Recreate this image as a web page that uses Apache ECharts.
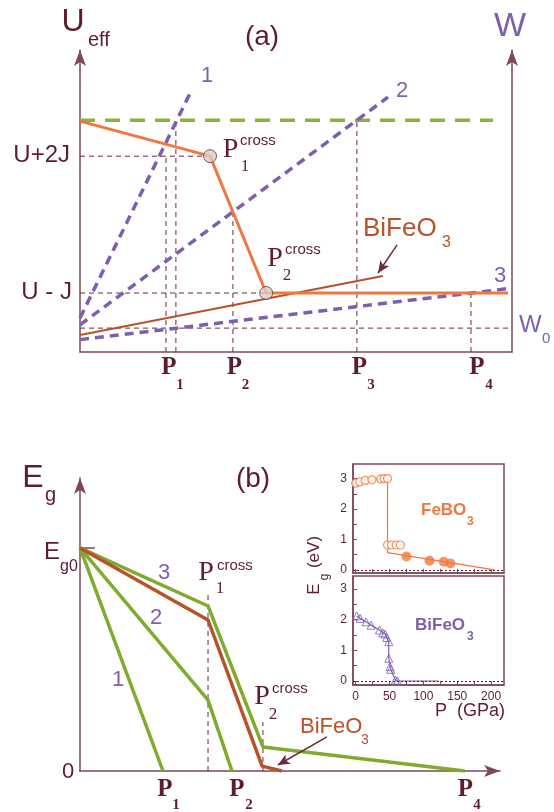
<!DOCTYPE html>
<html>
<head>
<meta charset="utf-8">
<script src="https://cdn.jsdelivr.net/npm/echarts@6/dist/echarts.min.js"></script>
<style>
  html, body { margin: 0; padding: 0; background: #fff; }
  #chart { width: 554px; height: 812px; }
</style>
</head>
<body>
<div id="chart"></div>
<script>
// ---- 数据 (a): Ueff / W 对压力 P 的示意图, 任意单位 ----
const aOrange = [[0, 78.3], [30.1, 66.4], [43.1, 20.0], [99.1, 20.0]]
const aGreenDash = [[0, 78.6], [95.6, 78.6]]
const aW1 = [[0, 11.5], [25.5, 87.8]]
const aW2 = [[0, 9.2], [71.3, 86.4]]
const aW3 = [[0, 4.2], [99.1, 21.5]]
const aBiFeO3 = [[0, 5.8], [70.1, 25.8]]
const aCross = [[30.1, 66.4], [43.1, 20.0]]
const aGuides = [
  [[0, 66.4], [30.1, 66.4]],   // U+2J
  [[0, 20.0], [43.1, 20.0]],   // U-J
  [[0, 8.1], [100, 8.1]],      // W0
  [[19.9, 0], [19.9, 66.4]],   // P1
  [[22.2, 0], [22.2, 78.6]],   // P1
  [[35.4, 0], [35.4, 47.5]],   // P2
  [[64.1, 0], [64.1, 78.6]],   // P3
  [[90.5, 0], [90.5, 20.0]]    // P4
]
const aArrow = [[73.4, 36.3], [69.0, 26.8]]

// ---- 数据 (b): Eg 对 P ----
const bLine1 = [[0, 78], [20.1, 0]]
const bLine2 = [[0, 78], [31.0, 24.8], [36.8, 0]]
const bLine3 = [[0, 78], [31.0, 57.7], [44.3, 8.4], [93.2, 0]]
const bBiFeO3 = [[0, 78], [31.0, 52.8], [44.1, 1.7], [48.9, 0]]
const bEg0Tick = [[0, 78], [3.6, 78]]
const bGuides = [
  [[31.0, 0], [31.0, 62.6]],
  [[44.3, 0], [44.3, 17.1]]
]
const bArrow = [[59.8, 11.9], [47.9, 2.1]]

// ---- 插图: 实验 Eg (eV) 对 P (GPa) ----
const feOpen = [[0, 2.85], [6, 2.89], [14, 2.94], [24, 2.96], [37, 2.99], [42, 3.0], [47, 3.0],
  [47, 0.82], [53, 0.82], [60, 0.82], [66, 0.82]]
const feFilled = [[75, 0.44], [109, 0.30], [130, 0.27], [140, 0.21]]
const feLine = [[0, 2.85], [6, 2.89], [14, 2.94], [24, 2.96], [37, 2.99], [42, 3.0], [47, 3.0],
  [47, 0.57], [205, 0]]
const biTri = [[1.5, 2.12], [6.4, 2.04], [15.3, 1.93], [22.7, 1.82], [35, 1.66], [39.9, 1.57],
  [43.3, 1.53], [45.8, 1.42], [48.8, 1.28], [48.8, 0.74], [50.7, 0.47], [51.7, 0.38],
  [58.6, 0.03], [61.6, 0]]
const biLine = biTri.concat([[122, 0]])
const insetXTicks = [0, 25, 50, 75, 100, 125, 150, 175, 200]
const insetXLabels = [0, 50, 100, 150, 200]
const insetYTicks = [0, 0.5, 1, 1.5, 2, 2.5, 3]
const insetYLabels = [0, 1, 2, 3]

const ink = '#5e1d2c'
const axisColor = '#7d4757'
const orange = '#f07840'
const green = '#7fab2e'
const greenDash = '#8db23a'
const purple = '#7d5fae'
const brown = '#b8522a'
const sans = '"Liberation Sans", Arial, sans-serif'
const serif = '"Liberation Serif", "Times New Roman", serif'

const chart = echarts.init(document.getElementById('chart'))

const line = (xi, yi, data, color, width, type, z) => ({
  type: 'line', xAxisIndex: xi, yAxisIndex: yi, data, symbol: 'none', silent: true,
  lineStyle: { color, width, type: type || 'solid', cap: 'butt' }, z: z || 2
})

const arrowMark = (from, to) => ({
  silent: true, symbol: ['none', 'arrow'], symbolSize: [8, 12],
  label: { show: false },
  lineStyle: { color: '#6b2a3a', width: 1.5, type: 'solid' },
  data: [[{ coord: from }, { coord: to }]]
})

const mainAxis = (gi, max, extra) => Object.assign({
  gridIndex: gi, type: 'value', min: 0, max,
  axisLine: { show: true, onZero: false, lineStyle: { color: axisColor, width: 1.5 } },
  axisTick: { show: false }, axisLabel: { show: false }, splitLine: { show: false }
}, extra)
const arrowLine = { show: true, onZero: false, symbol: ['none', 'arrow'], symbolSize: [9, 16],
  lineStyle: { color: axisColor, width: 1.5 } }

const insetX = (gi, labels) => ({
  gridIndex: gi, type: 'value', min: -4, max: 219,
  axisLine: { show: true, onZero: false, lineStyle: { color: axisColor, width: 1.5 } },
  axisTick: { show: true, inside: true, length: 4, customValues: insetXTicks, lineStyle: { color: axisColor } },
  axisLabel: { show: labels, customValues: insetXLabels, color: ink, fontSize: 12, fontFamily: sans, margin: 6 },
  splitLine: { show: false }
})
const insetY = (gi, min, max) => ({
  gridIndex: gi, type: 'value', min, max,
  axisLine: { show: true, onZero: false, lineStyle: { color: axisColor, width: 1.5 } },
  axisTick: { show: true, inside: true, length: 4, customValues: insetYTicks, lineStyle: { color: axisColor } },
  axisLabel: { show: true, customValues: insetYLabels, color: ink, fontSize: 12, fontFamily: sans, margin: 6 },
  splitLine: { show: false }
})

const t = (x, y, text, size, color, o) => {
  o = o || {}
  return {
    type: 'text', x, y, rotation: o.rot || 0, silent: true, z: 100,
    style: {
      text, fill: color,
      font: `${o.bold ? 'bold ' : ''}${size}px ${o.family || sans}`,
      textAlign: o.align || 'center', textVerticalAlign: 'middle'
    }
  }
}
const bp = { bold: true, family: serif }

const texts = [
  // (a)
  t(73, 22, 'U', 32, ink), t(88, 40, 'eff', 20, ink, { align: 'left' }),
  t(262, 37, '(a)', 28, ink),
  t(510, 27, 'W', 34, purple),
  t(207, 76, '1', 22, purple), t(402, 91, '2', 22, purple), t(500, 276, '3', 22, purple),
  t(70, 155, 'U+2J', 24, ink, { align: 'right' }),
  t(72, 292, 'U - J', 24, ink, { align: 'right' }),
  t(519, 325, 'W', 24, purple, { align: 'left' }), t(542, 339, '0', 15, purple, { align: 'left' }),
  t(169, 368, 'P', 25, ink, bp), t(180, 385, '1', 15, ink, bp),
  t(234.5, 368, 'P', 25, ink, bp), t(245.5, 385, '2', 15, ink, bp),
  t(359.5, 368, 'P', 25, ink, bp), t(371, 385, '3', 15, ink, bp),
  t(477, 368, 'P', 25, ink, bp), t(489, 385, '4', 15, ink, bp),
  t(230.5, 150, 'P', 28, ink, { family: serif }), t(240, 141, 'cross', 15, ink, { align: 'left' }),
  t(245, 167, '1', 17, ink, { family: serif }),
  t(275, 259, 'P', 28, ink, { family: serif }), t(285, 250, 'cross', 15, ink, { align: 'left' }),
  t(287, 276, '2', 17, ink, { family: serif }),
  t(363, 229, 'BiFeO', 26, brown, { align: 'left' }), t(442, 243, '3', 16, brown, { align: 'left' }),
  // (b)
  t(33, 478, 'E', 32, ink), t(45, 495, 'g', 20, ink, { align: 'left' }),
  t(52, 552, 'E', 24, ink), t(60, 567, 'g0', 16, ink, { align: 'left' }),
  t(68, 772, '0', 22, ink),
  t(253, 479, '(b)', 28, ink),
  t(164, 573, '3', 22, purple), t(156, 618, '2', 22, purple), t(118, 680, '1', 22, purple),
  t(206, 573, 'P', 28, ink, { family: serif }), t(217, 566, 'cross', 15, ink, { align: 'left' }),
  t(220, 589, '1', 17, ink, { family: serif }),
  t(262, 697, 'P', 28, ink, { family: serif }), t(272, 689, 'cross', 15, ink, { align: 'left' }),
  t(273, 715, '2', 17, ink, { family: serif }),
  t(300, 727, 'BiFeO', 22, brown, { align: 'left' }), t(361, 740, '3', 14, brown, { align: 'left' }),
  t(165, 790, 'P', 25, ink, bp), t(176, 805, '1', 15, ink, bp),
  t(237, 790, 'P', 25, ink, bp), t(249, 805, '2', 15, ink, bp),
  t(465.5, 790, 'P', 25, ink, bp), t(477, 805, '4', 15, ink, bp),
  // 插图
  t(421, 510, 'FeBO', 17, orange, { bold: true, align: 'left' }), t(467, 522, '3', 12, orange, { bold: true, align: 'left' }),
  t(415, 625, 'BiFeO', 17, purple, { bold: true, align: 'left' }), t(467, 637, '3', 12, purple, { bold: true, align: 'left' }),
  t(314, 589, 'E', 17, ink, { rot: Math.PI / 2 }), t(325, 577, 'g', 12, ink, { rot: Math.PI / 2 }),
  t(314, 552, '(eV)', 17, ink, { rot: Math.PI / 2 }),
  t(470, 711, 'P  (GPa)', 18, ink)
]

const option = {
  animation: false,
  backgroundColor: '#fff',
  grid: [
    { left: 80, top: 50, width: 432, height: 302 },
    { left: 80, top: 478, width: 420, height: 293 },
    { left: 353, top: 464, width: 151, height: 109, show: true, borderColor: axisColor, borderWidth: 1.5 },
    { left: 353, top: 576, width: 151, height: 109, show: true, borderColor: axisColor, borderWidth: 1.5 }
  ],
  xAxis: [
    mainAxis(0, 100),
    mainAxis(1, 101.7, { axisLine: arrowLine }),
    insetX(2, false),
    insetX(3, true)
  ],
  yAxis: [
    mainAxis(0, 102.4, { axisLine: arrowLine }),
    mainAxis(0, 102.4, { position: 'right', axisLine: arrowLine }),
    mainAxis(1, 102.45, { axisLine: arrowLine }),
    insetY(2, -0.1, 3.48),
    insetY(3, -0.13, 3.42)
  ],
  graphic: texts,
  series: [
    // (a)
    ...aGuides.map(g => line(0, 0, g, '#6b2a3a', 1, [5, 4], 1)),
    line(0, 0, aGreenDash, greenDash, 3.5, [15, 10]),
    line(0, 0, aW1, purple, 3.5, [9, 6]),
    line(0, 0, aW2, purple, 3.5, [9, 6]),
    line(0, 0, aW3, purple, 3.5, [9, 6]),
    Object.assign(line(0, 0, aBiFeO3, brown, 2), { markLine: arrowMark(aArrow[0], aArrow[1]) }),
    line(0, 0, aOrange, orange, 3, 'solid', 3),
    {
      type: 'scatter', xAxisIndex: 0, yAxisIndex: 0, data: aCross, symbolSize: 13, silent: true, z: 5,
      itemStyle: { color: '#d8cdc4', borderColor: '#6b3040', borderWidth: 1 }
    },
    // (b)
    ...bGuides.map(g => line(1, 2, g, '#6b2a3a', 1, [5, 4], 1)),
    line(1, 2, bEg0Tick, axisColor, 1.5),
    line(1, 2, bLine1, green, 3.5),
    line(1, 2, bLine2, green, 3.5),
    line(1, 2, bLine3, green, 3.5),
    Object.assign(line(1, 2, bBiFeO3, brown, 3.5, 'solid', 3), { markLine: arrowMark(bArrow[0], bArrow[1]) }),
    // 插图 FeBO3
    Object.assign(line(2, 3, feLine, orange, 1.2), {
      markLine: {
        silent: true, symbol: 'none', label: { show: false },
        lineStyle: { color: ink, width: 1, type: [2, 2] }, data: [{ yAxis: 0 }]
      }
    }),
    {
      type: 'scatter', xAxisIndex: 2, yAxisIndex: 3, data: feOpen, symbol: 'circle', symbolSize: 8, silent: true,
      itemStyle: { color: '#fff', borderColor: orange, borderWidth: 1.2 }, z: 4
    },
    {
      type: 'scatter', xAxisIndex: 2, yAxisIndex: 3, data: feFilled, symbol: 'circle', symbolSize: 10, silent: true,
      itemStyle: { color: orange }, z: 4
    },
    // 插图 BiFeO3
    Object.assign(line(3, 4, biLine, purple, 1.2), {
      markLine: {
        silent: true, symbol: 'none', label: { show: false },
        lineStyle: { color: ink, width: 1, type: [2, 2] }, data: [{ yAxis: 0 }]
      }
    }),
    {
      type: 'scatter', xAxisIndex: 3, yAxisIndex: 4, data: biTri, symbol: 'triangle', symbolSize: 8, silent: true,
      itemStyle: { color: 'rgba(255,255,255,0)', borderColor: purple, borderWidth: 1 }, z: 4
    }
  ]
}

chart.setOption(option)
</script>
</body>
</html>
